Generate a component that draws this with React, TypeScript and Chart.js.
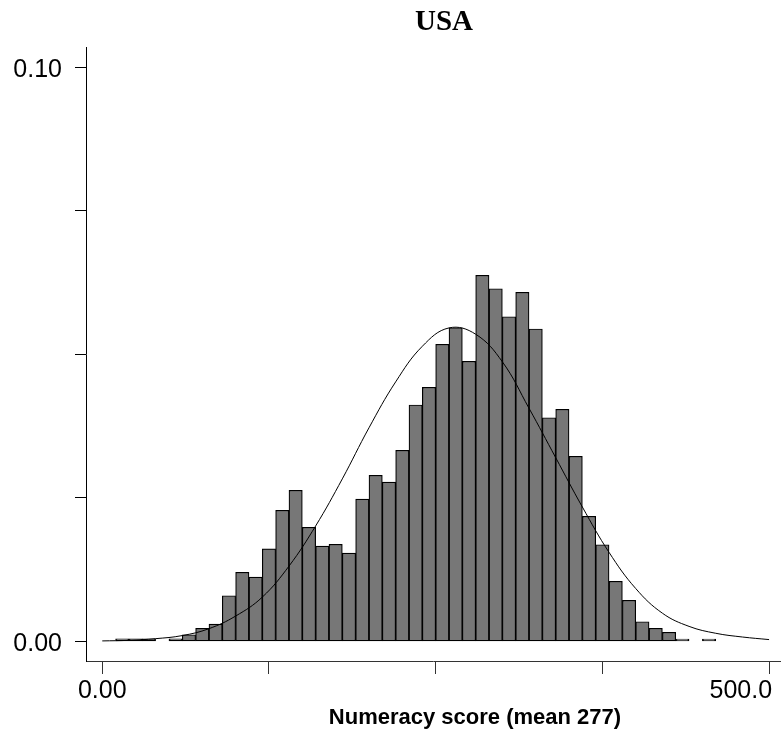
import React, { useEffect, useRef } from "react";
import { Chart, registerables } from "chart.js";

Chart.register(...registerables);

const chartTitle = "USA";
const xAxisTitle = "Numeracy score (mean 277)";

// Histogram bins (lower edge of each 10-point bin) and share of respondents
const binLowerEdges = [
  0, 10, 20, 30, 40, 50, 60, 70, 80, 90,
  100, 110, 120, 130, 140, 150, 160, 170, 180, 190,
  200, 210, 220, 230, 240, 250, 260, 270, 280, 290,
  300, 310, 320, 330, 340, 350, 360, 370, 380, 390,
  400, 410, 420, 430, 440, 450, 460, 470, 480, 490,
];
const binWidth = 10;
const binShares: (number | null)[] = [
  null, 0.00045, 0.00045, 0.00045, null, 0.00045, 0.00115, 0.00226, 0.00301, 0.00794,
  0.01202, 0.0112, 0.0161, 0.02282, 0.02631, 0.01986, 0.0166, 0.0169, 0.01538, 0.02479,
  0.02892, 0.02775, 0.03328, 0.04117, 0.04425, 0.05174, 0.05463, 0.04878, 0.06376, 0.06143,
  0.05655, 0.0608, 0.05441, 0.03895, 0.04042, 0.03223, 0.02178, 0.01683, 0.01045, 0.00714,
  0.00341, 0.00226, 0.00157, 0.0004, null, 0.0004, null, null, null, null,
];

// Fitted normal curve
const curveScores = [
  0, 20, 40, 60, 80, 100, 120, 140, 160, 180, 200, 220, 240,
  260, 280, 300, 320, 340, 360, 380, 400, 420, 440, 460, 480, 500,
];
const curveDensity = [
  0.00007, 0.00017, 0.00046, 0.001, 0.0022, 0.0044, 0.0077, 0.0131, 0.0201, 0.0283, 0.0372, 0.0452, 0.0514,
  0.0546, 0.0535, 0.0487, 0.0406, 0.032, 0.0234, 0.0155, 0.0092, 0.0049, 0.0026, 0.0014, 0.00075, 0.0003,
];

const xTickValues = [0, 125, 250, 375, 500];
const xTickLabels = ["0.00", "", "", "", "500.0"];
const yTickValues = [0, 0.025, 0.05, 0.075, 0.1];
const yTickLabels = ["0.00", "", "", "", "0.10"];

const TICK_FONT = '"Liberation Sans", Arial, Helvetica, sans-serif';

const textPlugin = {
  id: "customText",
  afterDraw(chart: any) {
    const ctx = chart.ctx;
    const xs = chart.scales.x;
    const area = chart.chartArea;
    ctx.save();
    ctx.fillStyle = "#000";
    ctx.textBaseline = "alphabetic";
    ctx.font = `25px ${TICK_FONT}`;
    xTickValues.forEach((v, i) => {
      const label = xTickLabels[i];
      if (!label) return;
      const px = xs.getPixelForValue(v);
      const isLast = i === xTickValues.length - 1;
      ctx.textAlign = isLast ? "right" : "center";
      ctx.fillText(label, isLast ? px + 3 : px, xs.top + 37);
    });
    ctx.font = `bold 22px ${TICK_FONT}`;
    ctx.textAlign = "center";
    ctx.fillText(xAxisTitle, (area.left + area.right) / 2 + 42, xs.top + 63);
    ctx.font = 'bold 29px "Liberation Serif", "Times New Roman", serif';
    ctx.fillText(chartTitle, (area.left + area.right) / 2 + 11, 30);
    ctx.restore();
  },
};

export default function App() {
  const canvasRef = useRef<HTMLCanvasElement | null>(null);

  useEffect(() => {
    if (!canvasRef.current) return;
    const barData = binLowerEdges.map((lo, i) => ({ x: lo + binWidth / 2, y: binShares[i] }));
    const curveData = curveScores.map((s, i) => ({ x: s, y: curveDensity[i] }));

    const chart = new Chart(canvasRef.current, {
      type: "bar",
      data: {
        datasets: [
          {
            type: "line",
            data: curveData,
            borderColor: "#000",
            borderWidth: 1,
            pointRadius: 0,
            tension: 0.4,
            fill: false,
            order: 0,
          } as any,
          {
            type: "bar",
            data: barData,
            backgroundColor: "#777777",
            borderColor: "#000",
            borderWidth: 1.2,
            borderSkipped: false,
            barPercentage: 1,
            categoryPercentage: 1,
            order: 1,
          } as any,
        ],
      },
      options: {
        responsive: false,
        animation: false,
        devicePixelRatio: 1,
        events: [],
        layout: { padding: { top: 47, right: 1, left: 0, bottom: 0 } },
        plugins: {
          legend: { display: false },
          tooltip: { enabled: false },
          title: { display: false },
        },
        scales: {
          x: {
            type: "linear",
            offset: false,
            min: -12.2,
            max: 508.2,
            afterBuildTicks: (scale: any) => {
              scale.ticks = xTickValues.map((v) => ({ value: v }));
            },
            afterFit: (scale: any) => {
              scale.height = 74;
            },
            ticks: { display: false },
            grid: {
              display: true,
              offset: false,
              drawOnChartArea: false,
              drawTicks: true,
              tickLength: 13,
              color: "#333",
              lineWidth: 1,
            },
            border: { display: true, color: "#333", width: 1 },
          },
          y: {
            type: "linear",
            min: -0.00343,
            max: 0.10354,
            afterBuildTicks: (scale: any) => {
              scale.ticks = yTickValues.map((v) => ({ value: v }));
            },
            afterFit: (scale: any) => {
              scale.width = 86;
            },
            ticks: {
              autoSkip: false,
              padding: 13,
              labelOffset: 3,
              color: "#000",
              font: { family: TICK_FONT, size: 25 },
              callback: (value: any) => {
                const idx = yTickValues.indexOf(Number(value));
                return idx >= 0 ? yTickLabels[idx] : "";
              },
            },
            grid: {
              display: true,
              drawOnChartArea: false,
              drawTicks: true,
              tickLength: 11,
              color: "#000",
              lineWidth: 1,
            },
            border: { display: true, color: "#000", width: 1 },
          },
        },
      } as any,
      plugins: [textPlugin],
    });
    return () => chart.destroy();
  }, []);

  return (
    <div style={{ position: "fixed", left: 0, top: 0, width: 781, height: 735, background: "#fff" }}>
      <canvas ref={canvasRef} width={781} height={735} style={{ display: "block", width: 781, height: 735 }} />
    </div>
  );
}
